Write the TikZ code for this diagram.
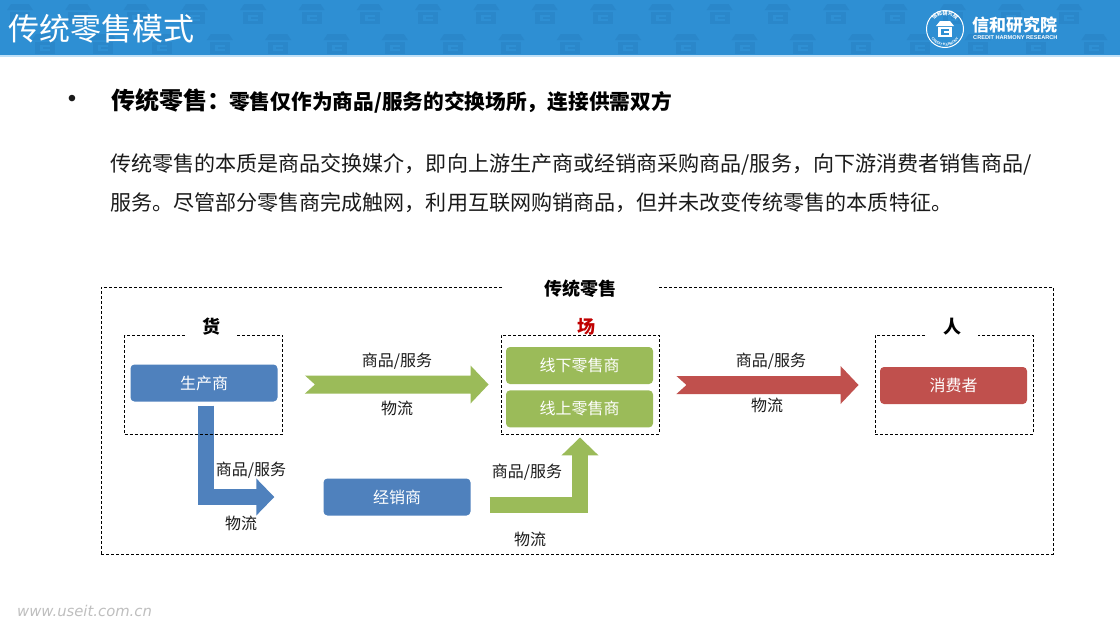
\documentclass[tikz,border=0pt]{standalone}
\usepackage{fontspec}
\setmainfont{Noto Sans CJK SC}
\newfontfamily\latinfont{Liberation Sans}
\newfontfamily\webfont{DejaVu Sans}
\usetikzlibrary{arrows.meta, positioning, calc, decorations.text}
\definecolor{headblue}{HTML}{2E8FD3}
\definecolor{iconblue}{HTML}{2A87CA}
\definecolor{rimblue}{HTML}{BFE0F7}
\definecolor{shopblue}{HTML}{4F81BD}
\definecolor{shopgreen}{HTML}{9BBB59}
\definecolor{shopred}{HTML}{C0504D}
\definecolor{placered}{HTML}{C00000}
\definecolor{inktext}{HTML}{1A1A1A}
\begin{document}
\begin{tikzpicture}[x=1pt, y=-1pt,
  dashbox/.style={draw=black, line width=0.9pt, dash pattern=on 3pt off 2pt, minimum width=158pt, minimum height=99pt, inner sep=0pt},
  tag/.style={fill=white, inner sep=0pt, minimum height=14pt, font=\fontsize{18}{18}\selectfont\bfseries},
  party/.style={rounded corners=4pt, minimum width=147pt, minimum height=37pt, inner sep=0pt, text=white, font=\fontsize{16}{16}\selectfont},
  flowtext/.style={inner sep=0pt, text=inktext, font=\fontsize{16}{16}\selectfont},
  blockarrow/.style={to path={
    -- ($(\tikztostart)+(-10,-9)$) -- ($(\tikztotarget)+(-18,-9)$) -- ($(\tikztotarget)+(-18,-19)$)
    -- (\tikztotarget) -- ($(\tikztotarget)+(-18,19)$) -- ($(\tikztotarget)+(-18,9)$)
    -- ($(\tikztostart)+(-10,9)$) -- cycle}},
  bentarrow/.style={line width=16pt, -{Triangle[length=18pt, width=36pt]}},
  icon/.pic={
    \fill[iconblue] (-13,-4) -- (-9,-10) -- (9,-10) -- (13,-4) -- cycle;
    \fill[iconblue] (-10,-2) rectangle (10,10);
    \fill[headblue] (-5,1) rectangle (5,7);
    \fill[iconblue] (-2,3) rectangle (5,5);
  }]
  \useasboundingbox (0,0) rectangle (1120,630);
  \fill[white] (0,0) rectangle (1120,630);
  % header band
  \fill[headblue] (0,0) rectangle (1120,55);
  \fill[rimblue] (0,55) rectangle (1120,57);
  \begin{scope}
    \clip (0,0) rectangle (1120,55);
    \foreach \k in {0,...,18} {
      \pic at ({20+58.3*\k},14) {icon};
      \pic at ({45+58.3*\k},44) {icon};
    }
  \end{scope}
  \node[anchor=west, inner sep=0pt, text=white, font=\fontsize{31}{31}\selectfont] (pagetitle) at (8,29) {传统零售模式};
  % logo
  \node[circle, draw=white, line width=1pt, minimum size=37pt, inner sep=0pt] (logoring) at (945,29) {};
  \path[decorate, decoration={text along path, text align=center, text color=white,
    text={|\fontsize{5}{5}\selectfont\bfseries|信和研究院}}]
    (931,29) .. controls (932,19) and (938,15) .. (945,15) .. controls (952,15) and (958,19) .. (959,29);
  \path[decorate, decoration={text along path, text align=center, text color=white,
    text={|\fontsize{3.6}{4}\latinfont\bfseries|CREDIT HARMONY}}]
    (929,33) .. controls (932,43) and (939,46) .. (945,46) .. controls (951,46) and (958,43) .. (961,33);
  \fill[white] (936,26) -- (940,21) -- (950,21) -- (954,26) -- cycle;
  \fill[white] (938,27) rectangle (952,37);
  \fill[headblue] (941,29) rectangle (949,35);
  \fill[white] (943.5,30.5) rectangle (949,33);
  \node[anchor=west, inner sep=0pt, text=white, font=\fontsize{17}{17}\selectfont\bfseries] (logoname) at (972,25) {信和研究院};
  \node[anchor=west, inner sep=0pt, text=white, font=\fontsize{5.6}{6}\latinfont\bfseries] (logoen) at (973,37.5) {CREDIT HARMONY RESEARCH};
  % text
  \node[inner sep=0pt, text=inktext, font=\fontsize{24}{24}\latinfont] (bullet) at (72,101) {•};
  \node[anchor=west, inner sep=0pt, text=black, font=\bfseries] (headline) at (111,101)
    {\fontsize{24}{24}\selectfont 传统零售：\hspace{-2pt}\fontsize{20.7}{20.7}\selectfont 零售仅作为商品/服务的交换场所，连接供需双方};
  \node[anchor=north west, inner sep=0pt, align=left, text=inktext, font=\fontsize{21.05}{39}\selectfont] (bodytext) at (110,153)
    {传统零售的本质是商品交换媒介，即向上游生产商或经销商采购商品/服务，向下游消费者销售商品/\\
     服务。尽管部分零售商完成触网，利用互联网购销商品，但并未改变传统零售的本质特征。};
  % diagram
  \node[dashbox, minimum width=952pt, minimum height=267pt] (retail) at (577,420.5) {};
  \node[tag, minimum width=155pt] (retailtag) at (580.5,289) {传统零售};
  \node[party, fill=shopblue] (maker) at (204,383) {生产商};
  \node[party, fill=shopblue] (dealer) at (397,497) {经销商};
  \draw[shopblue, bentarrow] ($(maker.south)+(2,4)$) |- ($(dealer.west)+(-49,0)$);
  \node[dashbox] (goods) at (203.5,384.5) {};
  \node[tag, minimum width=52pt] (goodstag) at (211,327) {货};
  \node[dashbox] (store) at (580,384.5) {};
  \node[tag, text=placered, minimum width=52pt] (storetag) at (586.5,327) {场};
  \node[party, fill=shopgreen] (offline) at (579.5,365.5) {线下零售商};
  \node[party, fill=shopgreen, below=6pt of offline] (online) {线上零售商};
  \node[dashbox] (person) at (954,384.5) {};
  \node[tag, minimum width=52pt] (persontag) at (952,327) {人};
  \node[party, fill=shopred] (buyer) at (953.5,385.5) {消费者};
  \path[fill=shopgreen, blockarrow] ($(goods.east)+(32,0)$) to ($(store.west)+(-12,0)$);
  \path[fill=shopred, blockarrow] ($(store.east)+(27,0.5)$) to ($(person.west)+(-16,0.5)$);
  \draw[shopgreen, bentarrow] ($(dealer.east)+(19,8)$) -| ($(store.south)+(0,3)$);
  % flow labels
  \node[flowtext] (goodsitem) at (397,361) {商品/服务};
  \node[flowtext] (goodsflow) at (397,408) {物流};
  \node[flowtext] (makeritem) at (251,470) {商品/服务};
  \node[flowtext] (makerflow) at (241,523) {物流};
  \node[flowtext] (dealeritem) at (527,472) {商品/服务};
  \node[flowtext] (dealerflow) at (530,539) {物流};
  \node[flowtext] (buyeritem) at (771,361) {商品/服务};
  \node[flowtext] (buyerflow) at (767,405) {物流};
  \node[anchor=west, inner sep=0pt, text=black!25, font=\fontsize{14.8}{15}\webfont\itshape] (webmark) at (17,611) {www.useit.com.cn};
\end{tikzpicture}
\end{document}
